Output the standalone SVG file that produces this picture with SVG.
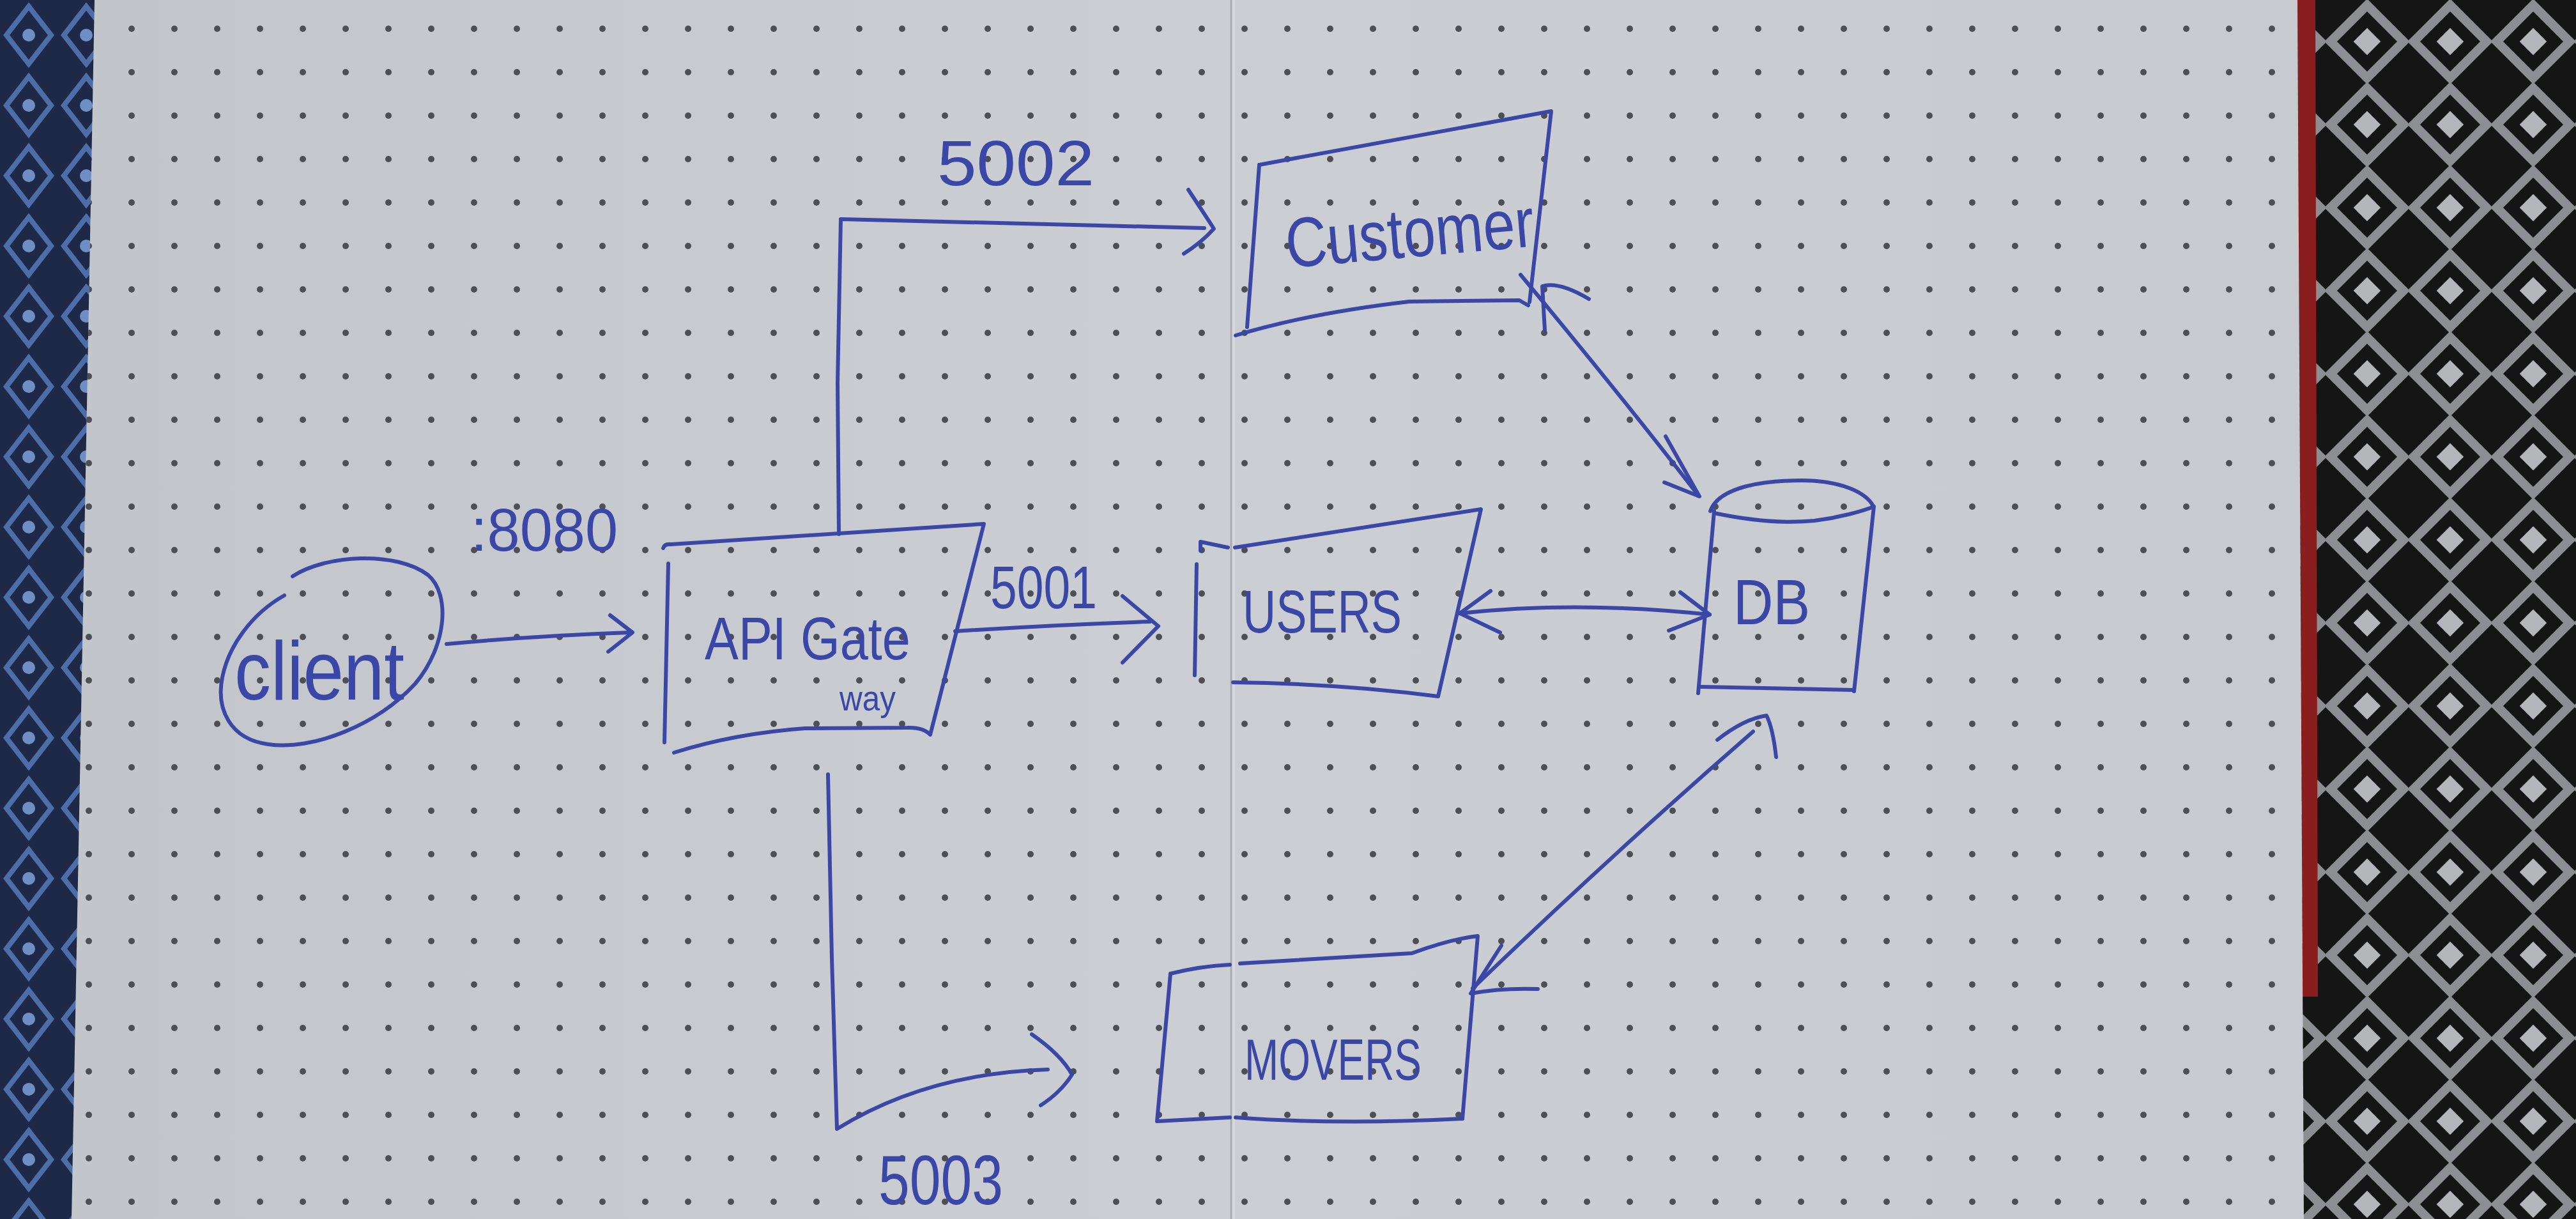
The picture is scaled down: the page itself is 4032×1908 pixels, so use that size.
<svg xmlns="http://www.w3.org/2000/svg" width="4032" height="1908" viewBox="0 0 4032 1908">
<defs>
<style>
.ink{fill:none;stroke:#3b47a6;stroke-width:6;stroke-linecap:round;stroke-linejoin:round}
.lbl{font-family:"Liberation Sans","DejaVu Sans",sans-serif;fill:#3b47a6}
</style>
<linearGradient id="paper" x1="0" y1="0" x2="1" y2="0">
<stop offset="0" stop-color="#c2c5ca"/>
<stop offset="0.5" stop-color="#cbced2"/>
<stop offset="1" stop-color="#c7cace"/>
</linearGradient>
<pattern id="dots" patternUnits="userSpaceOnUse" width="67" height="68" x="38" y="11">
<circle cx="34" cy="34" r="5" fill="#4d4f55"/>
</pattern>
<pattern id="fabL" patternUnits="userSpaceOnUse" width="90" height="110">
<rect width="90" height="110" fill="#1d2946"/>
<path d="M45 10 L80 55 L45 100 L10 55 Z" fill="none" stroke="#4d6ea8" stroke-width="8"/>
<circle cx="45" cy="55" r="10" fill="#6f8fc4"/>
</pattern>
<pattern id="fabR" patternUnits="userSpaceOnUse" width="130" height="130">
<rect width="130" height="130" fill="#151516"/>
<path d="M65 8 L122 65 L65 122 L8 65 Z" fill="none" stroke="#8d8e92" stroke-width="14"/>
<rect x="50" y="50" width="30" height="30" fill="#b5b6b9" transform="rotate(45 65 65)"/>
</pattern>
</defs>

<g id="background">
<rect x="0" y="0" width="4032" height="1908" fill="url(#fabL)"/>
<rect x="3600" y="0" width="432" height="1908" fill="url(#fabR)"/>
<polygon points="3596,0 3624,0 3628,1560 3604,1560" fill="#8a1e1f"/>
<polygon points="148,0 3596,0 3606,1908 112,1908" fill="url(#paper)"/>
<polygon points="148,0 3596,0 3606,1908 112,1908" fill="url(#dots)"/>
<line x1="1927" y1="0" x2="1927" y2="1908" stroke="#a9acb2" stroke-width="3"/>
<line x1="1931" y1="0" x2="1931" y2="1908" stroke="#d8dadd" stroke-width="3"/>
</g>

<g id="connectors">
<g id="edge-client-api">
<path class="ink" d="M699,1008 Q840,995 985,990"/>
<path class="ink" d="M955,963 L990,990 L952,1020"/>
<text class="lbl" x="737" y="862" font-size="95" textLength="230" lengthAdjust="spacingAndGlyphs">:8080</text>
</g>
<g id="edge-api-customer">
<path class="ink" d="M1313,836 L1311,600 L1316,343 L1885,357"/>
<path class="ink" d="M1860,297 Q1882,330 1900,358 Q1880,380 1853,397"/>
<text class="lbl" x="1467" y="290" font-size="100" textLength="246" lengthAdjust="spacingAndGlyphs">5002</text>
</g>
<g id="edge-api-users">
<path class="ink" d="M1495,988 Q1650,978 1800,973"/>
<path class="ink" d="M1757,933 L1813,980 L1757,1037"/>
<text class="lbl" x="1550" y="952" font-size="95" textLength="167" lengthAdjust="spacingAndGlyphs">5001</text>
</g>
<g id="edge-api-movers">
<path class="ink" d="M1296,1212 L1302,1500 L1310,1767 Q1450,1680 1640,1674"/>
<path class="ink" d="M1615,1619 Q1660,1650 1678,1682 Q1660,1710 1629,1730"/>
<text class="lbl" x="1375" y="1885" font-size="110" textLength="195" lengthAdjust="spacingAndGlyphs">5003</text>
</g>
<g id="edge-customer-db">
<path class="ink" d="M2380,430 Q2530,610 2658,775"/>
<path class="ink" d="M2418,517 L2414,448 Q2440,440 2487,468"/>
<path class="ink" d="M2607,683 L2660,777 L2605,755"/>
</g>
<g id="edge-users-db">
<path class="ink" d="M2285,960 Q2470,940 2676,962"/>
<path class="ink" d="M2333,925 L2285,960 L2348,990"/>
<path class="ink" d="M2630,927 L2676,962 L2612,987"/>
</g>
<g id="edge-db-movers">
<path class="ink" d="M2744,1145 Q2520,1340 2305,1547"/>
<path class="ink" d="M2688,1158 Q2730,1125 2765,1120 Q2775,1140 2780,1185"/>
<path class="ink" d="M2350,1480 L2302,1555 Q2350,1546 2407,1548"/>
</g>
</g>

<g id="client">
<path class="ink" d="M458,902 C510,868 620,862 670,900 C705,930 700,1010 650,1070 C590,1135 490,1175 420,1165 C360,1157 338,1110 348,1060 C358,1010 395,960 445,932"/>
<text class="lbl" x="367" y="1095" font-size="130" textLength="266" lengthAdjust="spacingAndGlyphs">client</text>
</g>

<g id="api-gateway">
<path class="ink" d="M1038,858 Q1040,851 1050,852 L1540,820 L1456,1150 Q1445,1138 1420,1139 L1260,1140 Q1150,1148 1055,1178"/>
<path class="ink" d="M1046,882 L1040,1162"/>
<text class="lbl" x="1103" y="1032" font-size="95" textLength="322" lengthAdjust="spacingAndGlyphs">API Gate</text>
<text class="lbl" x="1314" y="1112" font-size="55" textLength="88" lengthAdjust="spacingAndGlyphs">way</text>
</g>

<g id="customer">
<path class="ink" d="M1971,258 L2428,174 L2394,473"/>
<path class="ink" d="M1971,258 L1952,512"/>
<path class="ink" d="M1934,525 Q2050,490 2206,472 L2378,470 L2392,478"/>
<text class="lbl" x="2011" y="402" font-size="110" textLength="390" lengthAdjust="spacingAndGlyphs" transform="rotate(-5 2210 360)">Customer</text>
</g>

<g id="users">
<path class="ink" d="M1873,883 L1870,1057"/>
<path class="ink" d="M1879,862 L1879,848 L1922,857"/>
<path class="ink" d="M1933,857 L2318,797 L2251,1090 Q2100,1070 1930,1068"/>
<text class="lbl" x="1945" y="990" font-size="95" textLength="249" lengthAdjust="spacingAndGlyphs">USERS</text>
</g>

<g id="db">
<path class="ink" d="M2677,800 C2690,762 2760,752 2820,752 C2880,752 2920,770 2932,792"/>
<path class="ink" d="M2683,803 C2740,815 2790,820 2840,815 C2880,810 2915,800 2933,793"/>
<path class="ink" d="M2683,800 L2658,1085"/>
<path class="ink" d="M2933,793 L2902,1082"/>
<path class="ink" d="M2663,1075 L2902,1080"/>
<text class="lbl" x="2713" y="977" font-size="100" textLength="120" lengthAdjust="spacingAndGlyphs">DB</text>
</g>

<g id="movers">
<path class="ink" d="M1832,1524 Q1880,1512 1925,1510"/>
<path class="ink" d="M1941,1508 L2210,1492 Q2270,1470 2313,1465 L2289,1751"/>
<path class="ink" d="M1832,1524 L1811,1755 L1925,1749"/>
<path class="ink" d="M1934,1749 Q2092,1761 2289,1751"/>
<text class="lbl" x="1948" y="1690" font-size="90" textLength="277" lengthAdjust="spacingAndGlyphs">MOVERS</text>
</g>
</svg>
